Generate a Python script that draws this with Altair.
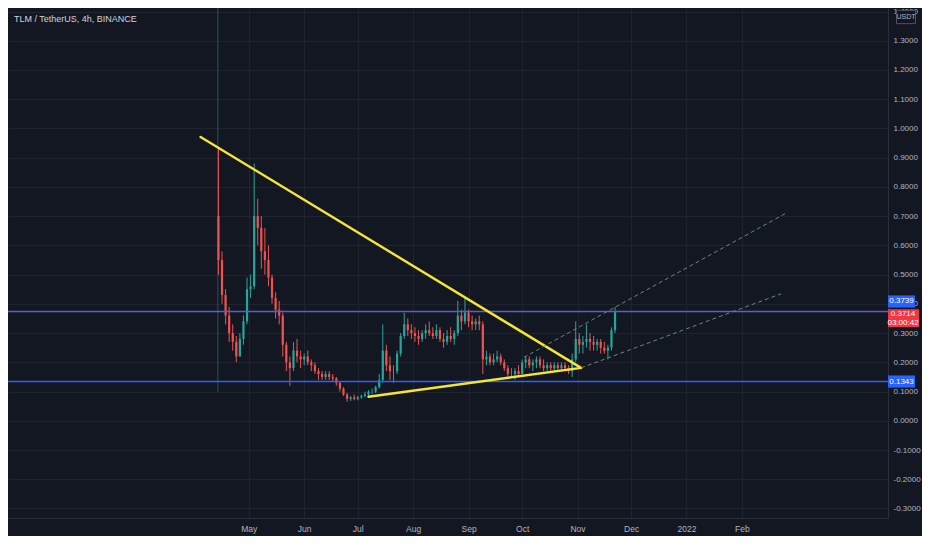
import json
import altair as alt
import pandas as pd

# ---------------- layout / style ----------------
W, H = 880, 510
PAD_R, PAD_B = 34, 18
BG = "#131722"
GRID = "#1f2330"
SEP = "#2a2e39"
TXT = "#b2b5be"
UP, DOWN = "#26a69a", "#ef5350"
FONT = "Liberation Sans, Arial, sans-serif"

# ---------------- data ----------------
title_text = "TLM / TetherUS, 4h, BINANCE"

candle_start = "2021-04-14"   # 2-day candles
first_open = 0.70
closes = [0.55, 0.43, 0.36, 0.30, 0.27, 0.22, 0.28, 0.34, 0.45, 0.46,
          0.70, 0.66, 0.58, 0.55, 0.49, 0.42, 0.38, 0.36, 0.26, 0.20,
          0.18, 0.24, 0.22, 0.21, 0.22, 0.20, 0.19, 0.17, 0.16, 0.15,
          0.16, 0.15, 0.145, 0.13, 0.11, 0.09, 0.075, 0.08, 0.075, 0.08,
          0.085, 0.09, 0.10, 0.10, 0.115, 0.14, 0.24, 0.19, 0.17, 0.17,
          0.23, 0.29, 0.33, 0.31, 0.30, 0.29, 0.28, 0.30, 0.31, 0.30,
          0.29, 0.31, 0.28, 0.27, 0.29, 0.28, 0.30, 0.36, 0.34, 0.37,
          0.34, 0.33, 0.34, 0.33, 0.21, 0.22, 0.20, 0.21, 0.22, 0.20,
          0.18, 0.16, 0.16, 0.17, 0.16, 0.20, 0.21, 0.19, 0.20, 0.21,
          0.19, 0.18, 0.19, 0.18, 0.19, 0.18, 0.19, 0.18, 0.17, 0.21,
          0.28, 0.26, 0.27, 0.28, 0.27, 0.26, 0.27, 0.25, 0.24, 0.25,
          0.31, 0.3714]
highs = [0.93, 0.58, 0.45, 0.39, 0.33, 0.29, 0.30, 0.36, 0.49, 0.50,
         0.88, 0.76, 0.70, 0.66, 0.60, 0.50, 0.44, 0.41, 0.37, 0.27,
         0.22, 0.27, 0.28, 0.24, 0.23, 0.24, 0.21, 0.20, 0.18, 0.17,
         0.17, 0.17, 0.16, 0.15, 0.135, 0.115, 0.095, 0.085, 0.09, 0.085,
         0.09, 0.10, 0.105, 0.11, 0.12, 0.16, 0.33, 0.26, 0.22, 0.19,
         0.24, 0.30, 0.37, 0.35, 0.33, 0.32, 0.31, 0.31, 0.33, 0.34,
         0.32, 0.33, 0.32, 0.30, 0.31, 0.32, 0.31, 0.41, 0.38, 0.42,
         0.38, 0.36, 0.35, 0.36, 0.34, 0.24, 0.23, 0.23, 0.24, 0.23,
         0.21, 0.19, 0.18, 0.18, 0.19, 0.21, 0.22, 0.22, 0.21, 0.22,
         0.22, 0.21, 0.20, 0.20, 0.20, 0.20, 0.20, 0.20, 0.19, 0.23,
         0.34, 0.30, 0.29, 0.33, 0.30, 0.29, 0.28, 0.28, 0.27, 0.26,
         0.32, 0.39]
lows = [0.50, 0.40, 0.33, 0.27, 0.24, 0.20, 0.22, 0.26, 0.33, 0.42,
        0.45, 0.60, 0.52, 0.50, 0.46, 0.40, 0.35, 0.33, 0.22, 0.17,
        0.12, 0.17, 0.20, 0.18, 0.19, 0.19, 0.17, 0.16, 0.14, 0.14,
        0.14, 0.14, 0.135, 0.12, 0.10, 0.085, 0.065, 0.068, 0.07, 0.07,
        0.075, 0.08, 0.085, 0.09, 0.095, 0.11, 0.13, 0.17, 0.14, 0.13,
        0.16, 0.22, 0.28, 0.29, 0.28, 0.27, 0.26, 0.27, 0.28, 0.29,
        0.28, 0.28, 0.27, 0.25, 0.26, 0.27, 0.26, 0.29, 0.31, 0.33,
        0.32, 0.31, 0.31, 0.31, 0.16, 0.19, 0.19, 0.19, 0.20, 0.19,
        0.17, 0.15, 0.15, 0.14, 0.15, 0.16, 0.18, 0.18, 0.17, 0.18,
        0.18, 0.17, 0.17, 0.17, 0.17, 0.17, 0.17, 0.17, 0.16, 0.15,
        0.20, 0.23, 0.23, 0.25, 0.24, 0.24, 0.24, 0.23, 0.23, 0.21,
        0.24, 0.30]

# listing candle wick
listing_date = ["2021-04-13T16:00:00Z"]
listing_low = [0.10]
listing_high = [1.60]

# yellow triangle lines (start date, start price, end date, end price)
tri_x1 = ["2021-04-04T00:00:00Z", "2021-07-07T00:00:00Z"]
tri_y1 = [0.971, 0.0823]
tri_x2 = ["2021-11-03T00:00:00Z", "2021-11-03T00:00:00Z"]
tri_y2 = [0.181, 0.181]

# dashed channel lines
dash_x1 = ["2021-10-02T00:00:00Z", "2021-11-03T00:00:00Z"]
dash_y1 = [0.217, 0.181]
dash_x2 = ["2022-02-26T00:00:00Z", "2022-02-23T00:00:00Z"]
dash_y2 = [0.711, 0.4345]

# horizontal levels
level_values = [0.3739, 0.1343]
level_colors = ["#5b5bd6", "#2962ff"]

last_price = 0.3714
countdown = "03:00:42"

x_domain = ["2020-12-20", "2022-04-21"]
y_domain = [-0.3325, 1.412]
y_ticks = [-0.3, -0.2, -0.1, 0.0, 0.1, 0.2, 0.3, 0.4, 0.5, 0.6, 0.7,
           0.8, 0.9, 1.0, 1.1, 1.2, 1.3, 1.4]
month_ticks = ["2021-05-01", "2021-06-01", "2021-07-01", "2021-08-01",
               "2021-09-01", "2021-10-01", "2021-11-01", "2021-12-01",
               "2022-01-01", "2022-02-01"]
month_labels = ["May", "Jun", "Jul", "Aug", "Sep", "Oct", "Nov", "Dec",
                "2022", "Feb"]


def ms(s):
    return int(pd.Timestamp(s, tz="UTC").value // 10**6)


dates = pd.date_range(candle_start, periods=len(closes), freq="2D")
opens = [first_open] + closes[:-1]
candles = pd.DataFrame({
    "date": dates.strftime("%Y-%m-%dT00:00:00Z"),
    "open": opens, "high": highs, "low": lows, "close": closes,
})
candles["dir"] = ["up" if c >= o else "down" for o, c in zip(opens, closes)]

listing = pd.DataFrame({"date": listing_date, "low": listing_low, "high": listing_high})
tri = pd.DataFrame({"x1": tri_x1, "y1": tri_y1, "x2": tri_x2, "y2": tri_y2})
dash = pd.DataFrame({"x1": dash_x1, "y1": dash_y1, "x2": dash_x2, "y2": dash_y2})
levels = pd.DataFrame({"v": level_values, "c": level_colors})

# ---------------- scales / axes ----------------
ticks_ms = [ms(t) for t in month_ticks]
x_label_expr = f"{json.dumps(month_labels)}[indexof({json.dumps(ticks_ms)}, toNumber(datum.value))]"
x_scale = alt.Scale(type="utc", domain=[ms(x_domain[0]), ms(x_domain[1])])
y_scale = alt.Scale(domain=y_domain, nice=False, zero=False)

x_axis = alt.Axis(values=ticks_ms, labelExpr=x_label_expr, title=None, grid=True,
                  gridColor=GRID, domainColor=SEP, ticks=False, labelPadding=6,
                  labelColor=TXT, labelFontSize=8.5, labelFont=FONT, labelFlush=False,
                  labelOverlap=False, zindex=0)
y_axis = alt.Axis(orient="right", values=y_ticks,
                  labelExpr="replace(format(datum.value, '.4f'), '\u2212', '-')",
                  title=None, grid=True, gridColor=GRID, domainColor=SEP, ticks=False,
                  labelPadding=5, labelColor=TXT, labelFontSize=8, labelFont=FONT,
                  labelAlign="left", labelOverlap=False, zindex=0)


def X(f):
    return alt.X(f, type="temporal", scale=x_scale, axis=x_axis)


def Y(f):
    return alt.Y(f, type="quantitative", scale=y_scale, axis=y_axis)


color = alt.Color("dir:N", scale=alt.Scale(domain=["up", "down"], range=[UP, DOWN]), legend=None)

# ---------------- layers ----------------
listing_layer = alt.Chart(listing).mark_rule(color=UP, opacity=0.45, strokeWidth=1, clip=True).encode(
    x=X("date"), y=Y("low"), y2="high")

wicks = alt.Chart(candles).mark_rule(strokeWidth=1).encode(
    x=X("date"), y=Y("low"), y2="high", color=color)
bodies = alt.Chart(candles).mark_bar(width=2.2).encode(
    x=X("date"), y=Y("open"), y2="close", color=color)

level_layer = alt.Chart(levels).mark_rule(strokeWidth=1.5).encode(
    y=Y("v"), color=alt.Color("c:N", scale=None))

tri_layer = alt.Chart(tri).mark_rule(color="#f5e635", strokeWidth=2.4, strokeCap="round").encode(
    x=X("x1"), x2="x2", y=Y("y1"), y2="y2")

dash_layer = alt.Chart(dash).mark_rule(color="#6d8579", strokeWidth=1, strokeDash=[4, 3]).encode(
    x=X("x1"), x2="x2", y=Y("y1"), y2="y2")

title_layer = alt.Chart(pd.DataFrame({"t": [title_text]})).mark_text(
    align="left", baseline="middle", color="#d1d4dc", fontSize=9, font=FONT).encode(
    text="t:N", x=alt.value(6), y=alt.value(11))

# price-scale labels
box_path_small = "M-1,-0.45L1,-0.45L1,0.45L-1,0.45Z"
lab_top = pd.DataFrame({"v": [level_values[0]], "t": [f"{level_values[0]:.4f}"]})
lab_low = pd.DataFrame({"v": [level_values[1]], "t": [f"{level_values[1]:.4f}"]})
lab_last = pd.DataFrame({"v": [last_price], "t": [f"{last_price:.4f}"], "cd": [countdown]})

top_box = alt.Chart(lab_top).mark_point(shape=box_path_small, size=27 ** 2, filled=True,
                                          opacity=1, color="#2962ff", yOffset=-10).encode(
    y=Y("v"), x=alt.value(W + 13.5))
top_txt = alt.Chart(lab_top).mark_text(color="#ffffff", fontSize=8, font=FONT, yOffset=-10).encode(
    y=Y("v"), x=alt.value(W + 13.5), text="t:N")

low_box = alt.Chart(lab_low).mark_point(shape=box_path_small, size=27 ** 2, filled=True,
                                          opacity=1, color="#2962ff").encode(
    y=Y("v"), x=alt.value(W + 13.5))
low_txt = alt.Chart(lab_low).mark_text(color="#ffffff", fontSize=8, font=FONT).encode(
    y=Y("v"), x=alt.value(W + 13.5), text="t:N")

last_box = alt.Chart(lab_last).mark_point(shape="M-1,-0.58L1,-0.58L1,0.58L-1,0.58Z", size=31 ** 2,
                                            filled=True, opacity=1, color="#f23645", yOffset=6).encode(
    y=Y("v"), x=alt.value(W + 15.5))
last_txt1 = alt.Chart(lab_last).mark_text(color="#ffffff", fontSize=8, font=FONT, yOffset=2).encode(
    y=Y("v"), x=alt.value(W + 15), text="t:N")
last_txt2 = alt.Chart(lab_last).mark_text(color="#ffffff", fontSize=8, font=FONT, yOffset=11).encode(
    y=Y("v"), x=alt.value(W + 15), text="cd:N")

usdt = pd.DataFrame({"t": ["USDT"]})
usdt_box = alt.Chart(usdt).mark_point(shape="M-1,-0.7L1,-0.7L1,0.7L-1,0.7Z", size=19 ** 2,
                                      filled=True, opacity=1, fill=BG, stroke="#50535e",
                                      strokeWidth=1).encode(
    x=alt.value(W + 18), y=alt.value(9))
usdt_txt = alt.Chart(usdt).mark_text(color=TXT, fontSize=7, font=FONT).encode(
    x=alt.value(W + 18), y=alt.value(9), text="t:N")

chart = alt.layer(
    listing_layer, wicks, bodies, level_layer, tri_layer, dash_layer, title_layer,
    top_box, top_txt, last_box, last_txt1, last_txt2, low_box, low_txt, usdt_box, usdt_txt,
).properties(
    width=W, height=H,
    autosize=alt.AutoSizeParams(type="none"),
    padding={"left": 0, "top": 0, "right": PAD_R, "bottom": PAD_B},
    background=BG,
).configure_view(stroke=None)

chart.save("out.html", embed_options={"renderer": "svg", "actions": False})
